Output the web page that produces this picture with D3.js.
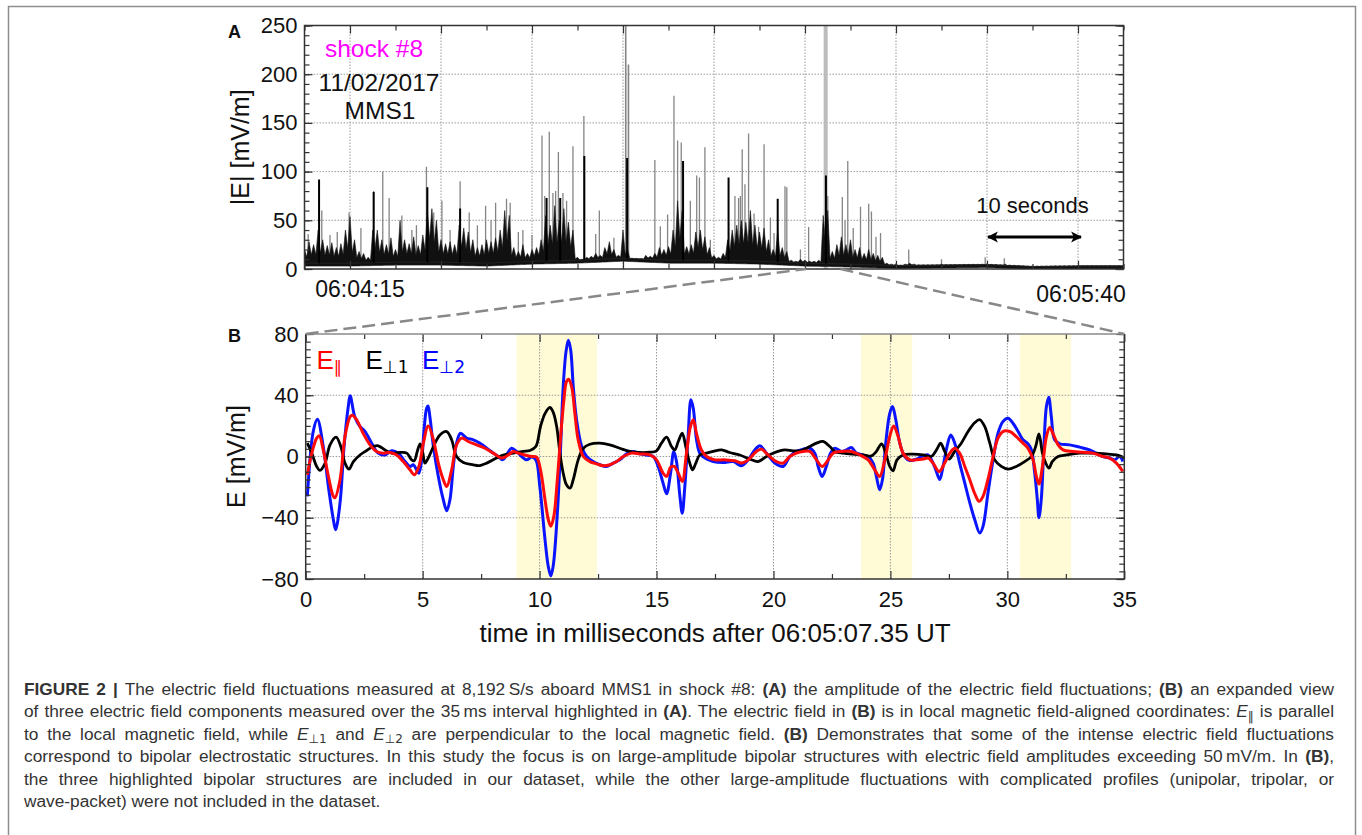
<!DOCTYPE html>
<html><head><meta charset="utf-8">
<script src="https://cdn.jsdelivr.net/npm/d3@7"></script>
<style>
body{margin:0;background:#fff;}
svg{display:block;font-family:"Liberation Sans",Arial,Helvetica,sans-serif;}
</style></head><body>
<svg id="chart" width="1362" height="835"></svg>
<script>
// ================= DATA =================
// Panel A: |E| amplitude (mV/m) vs seconds after the left edge (06:04:15 label)
const ampTicks = [0, 50, 100, 150, 200, 250];
const ampMinorTicks = [0,10,20,30,40,50,60,70,80,90,100,110,120,130,140,150,160,170,180,190,200,210,220,230,240,250];
const ampGridValues = [50, 100, 150, 200];
const timeGridA = [5, 15, 25, 35, 45, 55, 65, 75, 85];
const timeMinorA = [0, 10, 20, 30, 40, 50, 60, 70, 80, 90];
const timeLabelsA = ["06:04:15", "06:05:40"];
// baseline level of |E| sampled every 5 s (0..90 s)
const baseTimes = [0,5,10,15,20,25,30,35,40,45,50,55,60,65,70,75,80,85,90];
const baseLevel = [6,6,7,7,6,8,9,11,9,9,8,6,5,3.5,4,4.5,2.5,3,3];
// dense (black) envelope of |E|, one value per 0.5 s bin starting at 0 s
const denseBinWidth = 0.5;
const denseTop = [
 20,28,25,40,30,24,27,22,26,40, 54,30,18,16,12,40,40,30,25,32,
 20,50,30,26,33,24,35,60,62,50, 30,26,28,25,45,42,38,30,22,25,
 30,28,32,40,60,55,22,18,25,16, 20,22,30,55,45,65,50,62,48,40,
 12,10,12,13,16,14,22,28,20,14, 40,20,11,9,10,14,13,16,22,20,
 23,40,70,60,23,25,38,40,33,22, 14,12,16,30,40,45,50,48,60,45,
 38,42,30,20,40,22,18,9,8,10, 9,8,8,9,55,60,18,25,33,25,
 30,20,22,16,20,16,14,12,6,5, 5,4,5,6,5,4,4,3.5,4,4,
 5,4,4,3.5,4,4,3.5,4,4,4.5, 5,4,4,4,5,3.5,3,3,3,2.5,
 2.5,2.5,2.5,2.5,3,3,3,3,3,3, 3.5,3.5,3.5,3.5,3.5,3.5,3.5,3.5,3.5,3.5,3.5
];
// thin grey spikes [time s, |E| mV/m]
const greySpikes = [[0.4,36],[1.9,60],[2.8,35],[3.6,38],[4.9,58],[6.2,42],[7.6,80],[8.6,100],[9.3,73],[10.7,55],
 [11.8,40],[12.3,45],[13.4,105],[14.2,58],[15.1,70],[16.0,40],[17.1,90],[18.1,58],[19.0,45],[19.9,65],[20.5,50],
 [21.0,68],[22.2,72],[22.6,68],[23.5,38],[24.0,40],[25.0,35],[26.1,137],[26.4,75],[26.9,141],[27.3,78],[27.6,80],
 [27.9,120],[28.4,78],[28.8,70],[29.5,126],[30.7,157],[32.0,36],[32.4,60],[34.0,32],[35.3,250],[35.6,210],
 [38.5,112],[39.1,44],[39.9,56],[40.6,178],[41.0,132],[41.4,130],[42.4,70],[43.1,96],[43.4,94],[44.0,125],
 [44.6,30],[47.3,75],[47.7,73],[47.9,75],[48.1,123],[48.4,87],[48.8,139],[49.4,57],[49.9,43],[50.5,128],
 [51.2,53],[51.6,37],[52.8,85],[53.0,84],[54.5,20],[55.4,43],[57.5,75],[59.1,74],[59.4,50],[59.7,111],
 [60.3,42],[61.1,64],[62.0,67],[62.3,59],[62.8,33],[63.3,37],[66.4,20],[70.0,10],[74.8,12],[76.9,11]];
// thick black spikes [time s, |E| mV/m]
const blackSpikes = [[1.6,92],[7.6,79],[13.5,84],[17.1,62],[26.6,73],[28.1,73],[30.75,116],[35.45,114],
 [41.6,111],[46.6,94],[52.0,72],[57.3,96]];
const highlightA = 57.27;          // 35 ms interval (s)
const zoomWindowA = [55.1, 58.9];  // where the dashed zoom lines meet panel A
const scaleBar = {from: 75, to: 85, label: "10 seconds"};

// Panel B: E components (mV/m) vs ms after 06:05:07.35 UT
const eTicks = [-80, -40, 0, 40, 80];
const eMinorTicks = [-80,-75,-70,-65,-60,-55,-50,-45,-40,-35,-30,-25,-20,-15,-10,-5,0,5,10,15,20,25,30,35,40,45,50,55,60,65,70,75,80];
const eGridValues = [-40, 0, 40];
const msTicks = [0, 5, 10, 15, 20, 25, 30, 35];
const msMinorTicks = [2.5, 7.5, 12.5, 17.5, 22.5, 27.5, 32.5];
const msGrid = [5, 10, 15, 20, 25, 30];
const bipolarBands = [[9.02, 12.45], [23.74, 25.93], [30.54, 32.73]];

const ePerp2 = [[0.07,-26],[0.33,17],[0.5,24.3],[0.75,6.5],[0.97,-19.6],[1.18,-41],[1.28,-47.8],[1.47,-30],[1.64,6.5],[1.82,32.6],[1.9,39.6],[2.1,26],[2.32,19.6],[2.54,16.3],[2.82,8.7],[3.1,2.2],[3.39,1],[3.67,3.7],[3.96,2.2],[4.25,-3.3],[4.46,-6.5],[4.6,-5.4],[4.74,-8.7],[4.84,-10.9],[4.96,-2],[5.06,17.4],[5.17,31.5],[5.23,33],[5.31,26],[5.46,6.5],[5.67,-13],[5.88,-28],[6.03,-35.4],[6.17,-28],[6.31,-6.5],[6.45,8.7],[6.62,15.2],[6.88,12],[7.17,10.9],[7.45,8.7],[7.74,5.4],[8.02,2.2],[8.23,0],[8.42,-2.2],[8.59,1],[8.8,5.4],[9.02,3.3],[9.23,0],[9.44,-2.2],[9.66,-0.4],[9.84,-2.2],[10.01,-19.6],[10.23,-54],[10.37,-71.7],[10.48,-78],[10.58,-71.7],[10.76,-37],[10.9,6.5],[11.01,45.6],[11.13,68.5],[11.23,76],[11.33,69.6],[11.44,45.6],[11.58,24],[11.8,6.5],[12.01,0],[12.29,-3.3],[12.58,-5.4],[12.86,-6.5],[13.15,-4.3],[13.43,-2.2],[13.72,1.7],[14,3.3],[14.29,1.7],[14.57,1],[14.86,0],[15.07,-6.5],[15.28,-17.4],[15.43,-24.3],[15.6,-10.9],[15.74,3.3],[15.85,-3],[16.0,-26],[16.1,-37],[16.21,-19.6],[16.35,13],[16.47,37],[16.57,31.5],[16.71,10.9],[16.85,2.2],[17.07,-1],[17.42,-3.3],[17.85,-3.9],[18.28,-3.3],[18.63,-6],[18.92,-2.2],[19.2,4.3],[19.42,7],[19.7,2.2],[20.06,-4.3],[20.41,-6.5],[20.7,0],[20.98,3.3],[21.27,4.8],[21.55,5.4],[21.77,2],[21.91,-6.5],[22.08,-13],[22.26,-6.5],[22.44,2.2],[22.62,5.4],[22.91,3.3],[23.12,4.3],[23.33,5.9],[23.55,2.2],[23.83,1],[24.05,0],[24.26,-4.3],[24.4,-13],[24.54,-21.7],[24.66,-15],[24.8,8.7],[24.97,28],[25.09,32.6],[25.23,24],[25.4,8.7],[25.61,0],[25.83,-2.6],[26.11,-1.7],[26.4,0.4],[26.61,1],[26.75,-2],[26.94,-8.7],[27.11,-15],[27.25,-6.5],[27.42,6.5],[27.58,14],[27.75,8.7],[27.96,-4.3],[28.18,-17.4],[28.39,-30],[28.6,-41],[28.82,-50],[28.96,-45.6],[29.17,-24],[29.39,-2.2],[29.6,15.2],[29.81,22.8],[30.03,25],[30.24,21.7],[30.46,16.3],[30.67,10.9],[30.88,8.3],[31.03,4.3],[31.17,-10.9],[31.28,-28],[31.35,-40],[31.45,-28],[31.55,2.2],[31.67,32.6],[31.77,38.7],[31.88,26],[32.02,10.9],[32.24,8.3],[32.66,7.6],[33.09,6.1],[33.52,4.3],[33.8,2.2],[34.09,0],[34.37,-1],[34.59,-2.2],[34.8,0],[34.94,-3.3]];

const ePar = [[0.07,-12],[0.26,2.2],[0.47,12],[0.58,13.5],[0.75,4.3],[0.97,-13],[1.18,-26],[1.25,-27],[1.47,-15],[1.68,13],[1.9,26],[2.0,27],[2.18,24],[2.46,15],[2.75,7.6],[3.03,3.3],[3.32,2.2],[3.6,2.6],[3.89,1],[4.17,-3.3],[4.46,-8.7],[4.64,-12],[4.84,-6.5],[5.03,8.7],[5.24,20],[5.46,10.9],[5.67,-4.3],[5.88,-15],[6.03,-19.6],[6.24,-8.7],[6.45,7.6],[6.67,12],[6.95,9.8],[7.31,7.6],[7.66,5.4],[8.02,2.2],[8.38,-1],[8.66,1],[8.87,3.3],[9.09,2.2],[9.37,1],[9.66,0],[9.87,-0.4],[10.04,-8.7],[10.23,-28],[10.37,-41],[10.48,-45.6],[10.61,-39],[10.76,-15],[10.9,13],[11.04,37],[11.15,49],[11.24,50.4],[11.37,45.6],[11.51,28],[11.65,10.9],[11.87,0],[12.15,-3.3],[12.44,-4.8],[12.72,-6],[13.0,-5.4],[13.29,-3.3],[13.58,0],[13.93,2.2],[14.29,1.7],[14.71,1],[15.0,-2.2],[15.28,-10.9],[15.43,-13],[15.6,-7],[15.75,-6.5],[15.93,-10.9],[16.1,-16.3],[16.28,2.2],[16.45,19.6],[16.57,24],[16.71,15],[16.92,4.3],[17.14,0],[17.49,-2.2],[17.92,-2.2],[18.35,-2.8],[18.63,-4.3],[18.92,-2.2],[19.27,3.3],[19.49,4.8],[19.77,1],[20.13,-3.3],[20.41,-4.3],[20.7,0],[20.98,2.2],[21.27,3.3],[21.55,3.3],[21.84,-2.2],[22.08,-6.5],[22.34,-2.2],[22.55,2.2],[22.91,3.3],[23.33,3.3],[23.69,1],[24.05,-2.2],[24.33,-8.7],[24.54,-13],[24.76,-2.2],[24.97,13],[25.14,20],[25.33,13],[25.54,2.2],[25.83,-2.2],[26.11,-2.2],[26.4,-1.7],[26.61,-1],[26.82,-4.3],[27.08,-9.8],[27.32,-4.3],[27.54,2.2],[27.75,5.4],[27.96,2.2],[28.18,-6.5],[28.39,-15],[28.6,-24],[28.79,-29.3],[28.96,-26],[29.17,-15],[29.39,0],[29.6,12],[29.81,16.3],[30.1,16.3],[30.38,13],[30.67,8.7],[30.88,5.4],[31.1,-2.2],[31.24,-13],[31.35,-18],[31.5,-6.5],[31.67,13],[31.81,19],[31.95,15],[32.17,7.6],[32.38,4.3],[32.81,3.3],[33.24,2.8],[33.66,2.2],[34.09,0],[34.37,-1],[34.66,-4.3],[34.94,-9.8]];

const ePerp1 = [[0.07,8.7],[0.26,2.2],[0.47,-6.5],[0.61,-9.1],[0.83,-4.3],[1.04,7.6],[1.3,12.6],[1.5,6.5],[1.68,-4.3],[1.85,-8.3],[2.04,-3.3],[2.32,1],[2.61,3.9],[2.89,6.5],[3.1,7],[3.39,4.3],[3.67,2.2],[4.03,2.6],[4.32,2.2],[4.53,-2.2],[4.64,-2.8],[4.77,3.3],[4.89,8.3],[5.0,3],[5.1,-4.3],[5.24,-1],[5.46,6.5],[5.74,14],[6.03,16.3],[6.24,10.9],[6.45,0],[6.74,-3.9],[7.17,-5.4],[7.38,-6],[7.74,-4.3],[8.16,-1],[8.45,1],[8.87,2.2],[9.3,3.3],[9.59,3.9],[9.84,6.5],[10.04,19.6],[10.23,28],[10.44,32],[10.58,29],[10.73,19.6],[10.87,2.2],[11.01,-10.9],[11.15,-18.5],[11.3,-20.7],[11.44,-15],[11.65,-2.2],[11.87,5.4],[12.15,8],[12.58,8.7],[13.0,7.6],[13.43,5.4],[13.85,3.3],[14.29,2.6],[14.71,2.8],[15.0,3.7],[15.21,8.7],[15.43,12.6],[15.64,6.5],[15.78,4.3],[15.93,9.8],[16.1,15.2],[16.25,6.5],[16.42,-4.3],[16.54,-8.7],[16.68,-4.3],[16.85,1],[17.14,2.2],[17.42,3.3],[17.78,4.3],[18.13,2.6],[18.56,1],[18.99,-1.7],[19.34,-3.3],[19.7,0],[20.06,2.6],[20.48,4.3],[20.84,3.7],[21.2,3.9],[21.55,6.5],[21.84,8.7],[22.12,9.8],[22.41,6.5],[22.62,3.3],[22.98,2.2],[23.4,1.5],[23.83,1],[24.19,0.4],[24.4,3.3],[24.62,8.3],[24.8,2.2],[24.97,-6.5],[25.11,-9.3],[25.28,-2.2],[25.54,1],[25.97,1.5],[26.4,1],[26.75,0],[26.97,4.3],[27.15,8.7],[27.32,3.3],[27.51,-1.7],[27.75,3.3],[28.03,8.7],[28.32,16.3],[28.6,22],[28.82,24],[29.03,19.6],[29.25,8.7],[29.46,-2.2],[29.74,-6.5],[30.03,-8.3],[30.38,-6.5],[30.74,-3.3],[31.03,0],[31.21,6.5],[31.35,14.8],[31.5,2.2],[31.64,-4.3],[31.78,-7.6],[31.92,-3.3],[32.17,0],[32.52,1],[33.09,2.2],[33.66,2.2],[34.23,1.7],[34.66,1],[34.88,0],[35.0,-1]];

const seriesNames = [
  {sym: "E", sub: "\u2225", color: "#ff0000"},
  {sym: "E", sub: "\u22A51", color: "#000000"},
  {sym: "E", sub: "\u22A52", color: "#0000ff"}
];

const captionLines = [
 [["FIGURE 2 |","b"],[" The electric field fluctuations measured at 8,192\u2009S/s aboard MMS1 in shock #8: "],["(A)","b"],[" the amplitude of the electric field fluctuations; "],["(B)","b"],[" an expanded view"]],
 [["of three electric field components measured over the 35\u2009ms interval highlighted in "],["(A)","b"],[". The electric field in "],["(B)","b"],[" is in local magnetic field-aligned coordinates: "],["E","i"],["\u2016","s"],[" is parallel"]],
 [["to the local magnetic field, while "],["E","i"],["\u22A51","s"],[" and "],["E","i"],["\u22A52","s"],[" are perpendicular to the local magnetic field. "],["(B)","b"],[" Demonstrates that some of the intense electric field fluctuations"]],
 [["correspond to bipolar electrostatic structures. In this study the focus is on large-amplitude bipolar structures with electric field amplitudes exceeding 50\u2009mV/m. In "],["(B)","b"],[","]],
 [["the three highlighted bipolar structures are included in our dataset, while the other large-amplitude fluctuations with complicated profiles (unipolar, tripolar, or"]],
 [["wave-packet) were not included in the dataset."]]
];

// ================= DRAW =================
const svg = d3.select("#chart");
const FONT = '"Liberation Sans",Arial,Helvetica,sans-serif';

svg.append("path").attr("d","M8.5,850 L8.5,6.5 L1355.5,6.5 L1355.5,850")
  .attr("fill","none").attr("stroke","#8e8e8e").attr("stroke-width",1.5);

// ---------- Panel A ----------
const A = {l:304.5, r:1123.5, t:25.5, b:269};
const xA = d3.scaleLinear().domain([0,90]).range([A.l, A.r]);
const yA = d3.scaleLinear().domain([0,250]).range([A.b, A.t]);
const baseAt = d3.scaleLinear().domain(baseTimes).range(baseLevel);

svg.append("clipPath").attr("id","clipA").append("rect")
  .attr("x",A.l).attr("y",A.t).attr("width",A.r-A.l).attr("height",A.b-A.t);

const gA = svg.append("g");
gA.append("g").selectAll("line").data(ampGridValues).join("line")
  .attr("x1",A.l).attr("x2",A.r).attr("y1",d=>yA(d)).attr("y2",d=>yA(d))
  .attr("stroke","#9a9a9a").attr("stroke-width",1).attr("stroke-dasharray","1.5,1.5");
gA.append("g").selectAll("line").data(timeGridA).join("line")
  .attr("x1",d=>xA(d)).attr("x2",d=>xA(d)).attr("y1",A.t).attr("y2",A.b)
  .attr("stroke","#9a9a9a").attr("stroke-width",1).attr("stroke-dasharray","1.5,1.5");

gA.append("rect").attr("x",xA(highlightA)-2).attr("y",A.t).attr("width",4).attr("height",A.b-A.t)
  .attr("fill","#bcbcbc");

const dataA = gA.append("g").attr("clip-path","url(#clipA)");
dataA.append("g").selectAll("line").data(greySpikes).join("line")
  .attr("x1",d=>xA(d[0])).attr("x2",d=>xA(d[0]))
  .attr("y1",d=>yA(baseAt(d[0]))).attr("y2",d=>yA(d[1]))
  .attr("stroke","#858585").attr("stroke-width",d=>d[1]>200?1.6:1.3);
const densePts = [];
denseTop.forEach((v,i)=>{
  const t = i*denseBinWidth;
  const b = baseAt(t);
  densePts.push({t:t, lo:Math.max(0,b-3), hi:Math.max(v,b+0.5)});
  const t2 = t + denseBinWidth/2;
  if (i < denseTop.length-1) {
    const b2 = baseAt(t2);
    const nMin = Math.min(v, denseTop[i+1]);
    densePts.push({t:t2, lo:Math.max(0,b2-3), hi:Math.max(b2, b2 + 0.45*(nMin-b2))});
  }
});
dataA.append("path").datum(densePts)
  .attr("d", d3.area().x(d=>xA(d.t)).y0(d=>yA(d.lo)).y1(d=>yA(d.hi)))
  .attr("fill","#111").attr("stroke","#111").attr("stroke-width",0.6);
dataA.append("path").datum(baseTimes.map((t,i)=>[t, baseLevel[i]]))
  .attr("d", d3.line().x(d=>xA(d[0])).y(d=>yA(d[1])))
  .attr("fill","none").attr("stroke","#222").attr("stroke-width",1);
dataA.append("g").selectAll("line").data(blackSpikes).join("line")
  .attr("x1",d=>xA(d[0])).attr("x2",d=>xA(d[0]))
  .attr("y1",d=>yA(baseAt(d[0]))).attr("y2",d=>yA(d[1]))
  .attr("stroke","#000").attr("stroke-width",2);

function styleAxis(g, size){
  g.select(".domain").remove();
  g.selectAll("line").attr("stroke","#333").attr("stroke-width",1.2);
  g.selectAll("text").attr("font-family",FONT).attr("font-size",size).attr("fill","#111");
}
gA.append("g").attr("transform",`translate(${A.l},0)`)
  .call(d3.axisLeft(yA).tickValues(ampMinorTicks).tickSize(-5).tickFormat("")).call(g=>styleAxis(g,22));
gA.append("g").attr("transform",`translate(${A.l},0)`)
  .call(d3.axisLeft(yA).tickValues(ampTicks).tickSize(-8).tickPadding(7)).call(g=>styleAxis(g,22));
gA.append("g").attr("transform",`translate(${A.r},0)`)
  .call(d3.axisRight(yA).tickValues(ampMinorTicks).tickSize(-5).tickFormat("")).call(g=>styleAxis(g,22));
gA.append("g").attr("transform",`translate(${A.r},0)`)
  .call(d3.axisRight(yA).tickValues(ampTicks).tickSize(-8).tickFormat("")).call(g=>styleAxis(g,22));
[[d3.axisTop, A.t],[d3.axisBottom, A.b]].forEach(([ax,y])=>{
  gA.append("g").attr("transform",`translate(0,${y})`)
    .call(ax(xA).tickValues(timeMinorA).tickSize(-5).tickFormat("")).call(g=>styleAxis(g,22));
  gA.append("g").attr("transform",`translate(0,${y})`)
    .call(ax(xA).tickValues(timeGridA).tickSize(-8).tickFormat("")).call(g=>styleAxis(g,22));
});
gA.append("rect").attr("x",A.l).attr("y",A.t).attr("width",A.r-A.l).attr("height",A.b-A.t)
  .attr("fill","none").attr("stroke","#333").attr("stroke-width",1.5);

svg.append("text").attr("transform",`translate(249,${(A.t+A.b)/2}) rotate(-90)`)
  .attr("text-anchor","middle").attr("font-family",FONT).attr("font-size",25).attr("fill","#111")
  .text("|E| [mV/m]");
svg.append("text").attr("x",374).attr("y",57).attr("text-anchor","middle").attr("font-family",FONT)
  .attr("font-size",24.5).attr("fill","#ff00ff").text("shock #8");
svg.append("text").attr("x",379).attr("y",90.5).attr("text-anchor","middle").attr("font-family",FONT)
  .attr("font-size",24.5).attr("fill","#111").text("11/02/2017");
svg.append("text").attr("x",380).attr("y",119).attr("text-anchor","middle").attr("font-family",FONT)
  .attr("font-size",24.5).attr("fill","#111").text("MMS1");
svg.append("text").attr("x",360).attr("y",296.5).attr("text-anchor","middle").attr("font-family",FONT)
  .attr("font-size",23).attr("fill","#111").text(timeLabelsA[0]);
svg.append("text").attr("x",1081).attr("y",301.5).attr("text-anchor","middle").attr("font-family",FONT)
  .attr("font-size",23).attr("fill","#111").text(timeLabelsA[1]);
svg.append("text").attr("x",(xA(scaleBar.from)+xA(scaleBar.to))/2).attr("y",213.3).attr("text-anchor","middle")
  .attr("font-family",FONT).attr("font-size",22).attr("fill","#111").text(scaleBar.label);
const defs = svg.append("defs");
defs.append("marker").attr("id","arr").attr("viewBox","0 0 10 10").attr("refX",9).attr("refY",5)
  .attr("markerWidth",11).attr("markerHeight",13).attr("markerUnits","userSpaceOnUse").attr("orient","auto-start-reverse")
  .append("path").attr("d","M0,0 L10,5 L0,10 L2.5,5 Z").attr("fill","#000");
svg.append("line").attr("x1",xA(scaleBar.from)+1).attr("x2",xA(scaleBar.to)+3).attr("y1",237).attr("y2",237)
  .attr("stroke","#000").attr("stroke-width",3)
  .attr("marker-start","url(#arr)").attr("marker-end","url(#arr)");
svg.append("text").attr("x",228).attr("y",38).attr("font-family",FONT).attr("font-weight","bold")
  .attr("font-size",18).attr("fill","#111").text("A");

// ---------- Panel B ----------
const B = {l:305.7, r:1124.3, t:334, b:579};
const xB = d3.scaleLinear().domain([0,35]).range([B.l, B.r]);
const yB = d3.scaleLinear().domain([-80,80]).range([B.b, B.t]);

svg.append("clipPath").attr("id","clipB").append("rect")
  .attr("x",B.l).attr("y",B.t).attr("width",B.r-B.l).attr("height",B.b-B.t);
const gB = svg.append("g");
gB.append("g").selectAll("rect").data(bipolarBands).join("rect")
  .attr("x",d=>xB(d[0])).attr("width",d=>xB(d[1])-xB(d[0])).attr("y",B.t).attr("height",B.b-B.t)
  .attr("fill","#fefbd6");
gB.append("g").selectAll("line").data(eGridValues).join("line")
  .attr("x1",B.l).attr("x2",B.r).attr("y1",d=>yB(d)).attr("y2",d=>yB(d))
  .attr("stroke","#9a9a9a").attr("stroke-width",1).attr("stroke-dasharray","1.5,1.5");
gB.append("g").selectAll("line").data(msGrid).join("line")
  .attr("x1",d=>xB(d)).attr("x2",d=>xB(d)).attr("y1",B.t).attr("y2",B.b)
  .attr("stroke","#9a9a9a").attr("stroke-width",1).attr("stroke-dasharray","1.5,1.5");

const lineB = d3.line().x(d=>xB(d[0])).y(d=>yB(d[1])).curve(d3.curveCatmullRom.alpha(0.5));
const dataB = gB.append("g").attr("clip-path","url(#clipB)");
[[ePerp2,"#0a14ff",3],[ePerp1,"#000",2.8],[ePar,"#ff0a0a",3]].forEach(([s,c,w])=>{
  dataB.append("path").datum(s).attr("d",lineB).attr("fill","none").attr("stroke",c)
    .attr("stroke-width",w).attr("stroke-linejoin","round");
});

gB.append("g").attr("transform",`translate(${B.l},0)`)
  .call(d3.axisLeft(yB).tickValues(eMinorTicks).tickSize(-5).tickFormat("")).call(g=>styleAxis(g,22));
gB.append("g").attr("transform",`translate(${B.l},0)`)
  .call(d3.axisLeft(yB).tickValues(eTicks).tickSize(-8).tickPadding(7)).call(g=>styleAxis(g,22));
gB.append("g").attr("transform",`translate(${B.r},0)`)
  .call(d3.axisRight(yB).tickValues(eMinorTicks).tickSize(-5).tickFormat("")).call(g=>styleAxis(g,22));
gB.append("g").attr("transform",`translate(${B.r},0)`)
  .call(d3.axisRight(yB).tickValues(eTicks).tickSize(-8).tickFormat("")).call(g=>styleAxis(g,22));
gB.append("g").attr("transform",`translate(0,${B.b})`)
  .call(d3.axisBottom(xB).tickValues(msMinorTicks).tickSize(-5).tickFormat("")).call(g=>styleAxis(g,22));
gB.append("g").attr("transform",`translate(0,${B.b})`)
  .call(d3.axisBottom(xB).tickValues(msTicks).tickSize(-8).tickPadding(12)).call(g=>styleAxis(g,22));
gB.append("g").attr("transform",`translate(0,${B.t})`)
  .call(d3.axisTop(xB).tickValues(msMinorTicks).tickSize(-5).tickFormat("")).call(g=>styleAxis(g,22));
gB.append("g").attr("transform",`translate(0,${B.t})`)
  .call(d3.axisTop(xB).tickValues(msTicks).tickSize(-8).tickFormat("")).call(g=>styleAxis(g,22));
gB.append("path").attr("d",`M${B.r},${B.t} L${B.l},${B.t}`).attr("stroke","#8a8a8a").attr("stroke-width",1.5);
gB.append("path").attr("d",`M${B.l},${B.t} L${B.l},${B.b} L${B.r},${B.b} L${B.r},${B.t}`)
  .attr("fill","none").attr("stroke","#333").attr("stroke-width",1.5);

svg.append("text").attr("transform",`translate(245,${(B.t+B.b)/2}) rotate(-90)`)
  .attr("text-anchor","middle").attr("font-family",FONT).attr("font-size",25).attr("fill","#111")
  .text("E [mV/m]");
svg.append("text").attr("x",(B.l+B.r)/2).attr("y",642).attr("text-anchor","middle")
  .attr("font-family",FONT).attr("font-size",26).attr("fill","#111")
  .text("time in milliseconds after 06:05:07.35 UT");
svg.append("text").attr("x",228).attr("y",341.5).attr("font-family",FONT).attr("font-weight","bold")
  .attr("font-size",18).attr("fill","#111").text("B");

const legX = [316.5, 365.5, 422];
seriesNames.forEach((s,i)=>{
  const t = svg.append("text").attr("x",legX[i]).attr("y",368.5).attr("font-family",FONT).attr("fill",s.color);
  t.append("tspan").attr("font-size",26).text(s.sym);
  t.append("tspan").attr("font-size",17).attr("dy",4).attr("font-family",'"DejaVu Sans",'+FONT).text(s.sub);
});

const zl = svg.append("g").attr("stroke","#888").attr("stroke-width",2.5).attr("stroke-dasharray","13,6").attr("fill","none");
zl.append("line").attr("x1",B.l).attr("y1",B.t).attr("x2",xA(zoomWindowA[0])).attr("y2",A.b);
zl.append("line").attr("x1",xA(zoomWindowA[1])).attr("y1",A.b).attr("x2",B.r).attr("y2",B.t);

// ---------- caption ----------
const capG = svg.append("g").attr("font-family",FONT).attr("font-size",17.3).attr("fill","#333");
const capTarget = 1334 - 24;
captionLines.forEach((line,li)=>{
  const txt = capG.append("text").attr("x",24).attr("y",695 + li*22.45).style("white-space","pre");
  let sub = false;
  line.forEach(seg=>{
    const [str, st] = seg;
    const ts = txt.append("tspan").text(str);
    if (st === "b") ts.attr("font-weight","bold");
    if (st === "i") ts.attr("font-style","italic");
    if (st === "s") { ts.attr("font-size",12).attr("dy",3.5).attr("fill","#333").attr("font-family",'"DejaVu Sans",'+FONT); sub = true; }
    else if (sub) { ts.attr("dy",-3.5); sub = false; }
  });
  if (li < captionLines.length-1) {
    const natural = txt.node().getComputedTextLength();
    const spaces = (txt.text().match(/ /g) || []).length;
    if (spaces > 0) txt.attr("word-spacing", (capTarget - natural)/spaces);
  }
});
</script>
</body></html>
